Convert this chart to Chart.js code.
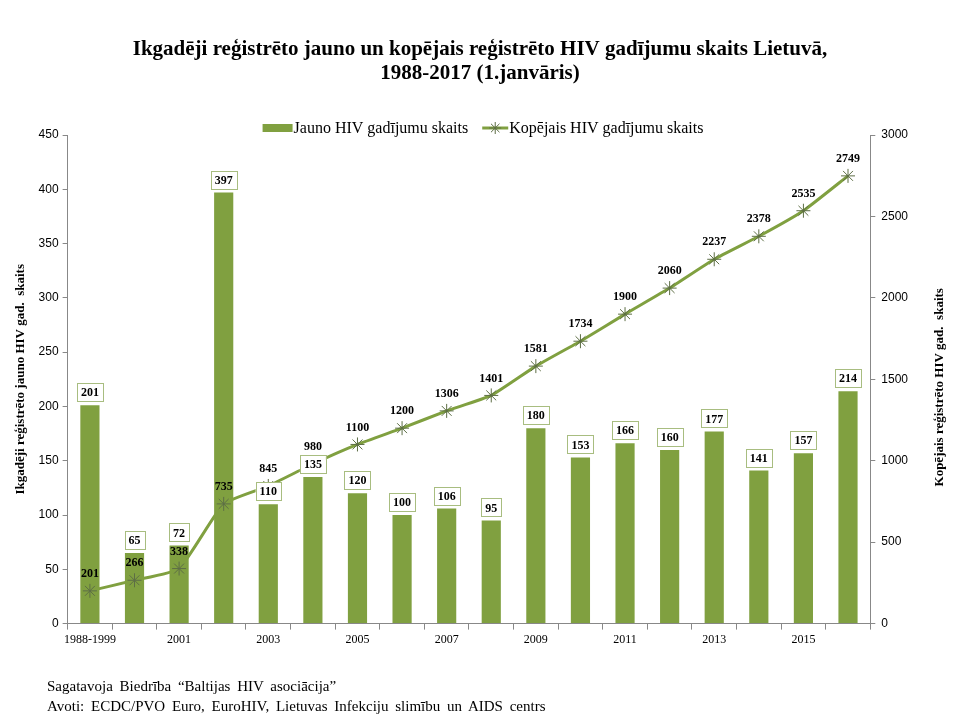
<!DOCTYPE html>
<html>
<head>
<meta charset="utf-8">
<script src="https://cdn.jsdelivr.net/npm/chart.js@4.4.0/dist/chart.umd.min.js"></script>
<style>
  html, body { margin: 0; padding: 0; background: #fff; }
  #wrap { position: relative; width: 960px; height: 720px; }
  #footer { position: absolute; left: 47px; top: 676px; font-family: "Liberation Serif", serif; font-size: 15px; line-height: 20px; color: #000; word-spacing: 3px; }
</style>
</head>
<body>
<div id="wrap">
  <canvas id="chart" width="960" height="720"></canvas>
  <div id="footer">
    Sagatavoja Biedrība “Baltijas HIV asociācija”<br>
    Avoti: ECDC/PVO Euro, EuroHIV, Lietuvas Infekciju slimību un AIDS centrs
  </div>
</div>
<script>
// dati
const gadi = ['1988-1999', '2000', '2001', '2002', '2003', '2004', '2005', '2006', '2007',
  '2008', '2009', '2010', '2011', '2012', '2013', '2014', '2015', '2016'];
const jauni = [201, 65, 72, 397, 110, 135, 120, 100, 106, 95, 180, 153, 166, 160, 177, 141, 157, 214];
const kopa = [201, 266, 338, 735, 845, 980, 1100, 1200, 1306, 1401, 1581, 1734, 1900, 2060, 2237, 2378, 2535, 2749];
const kreisaTicks = [0, 50, 100, 150, 200, 250, 300, 350, 400, 450];
const labaTicks = [0, 500, 1000, 1500, 2000, 2500, 3000];
const serijas = ['Jauno HIV gadījumu skaits', 'Kopējais HIV gadījumu skaits'];
const virsraksts = ['Ikgadēji reģistrēto jauno un kopējais reģistrēto HIV gadījumu skaits Lietuvā,', '1988-2017 (1.janvāris)'];

const zals = '#80a040';
const zvaigzne = '#5d6e45';
const serif = '"Liberation Serif", "Times New Roman", serif';
const sans = '"Liberation Sans", Arial, sans-serif';

// vertibu uzraksti, virsraksts, leģenda un labās ass nosaukums
const uzraksti = {
  id: 'uzraksti',
  afterDatasetsDraw(chart) {
    const ctx = chart.ctx;
    ctx.save();
    ctx.font = 'bold 12px ' + serif;
    ctx.textAlign = 'center';
    ctx.textBaseline = 'middle';
    chart.getDatasetMeta(1).data.forEach((bar, i) => {
      const txt = String(jauni[i]);
      const w = ctx.measureText(txt).width + 8;
      const h = 18;
      const cy = bar.y - 13;
      ctx.fillStyle = '#fff';
      ctx.strokeStyle = '#a8bd80';
      ctx.lineWidth = 1;
      ctx.fillRect(bar.x - w / 2, cy - h / 2, w, h);
      ctx.strokeRect(Math.round(bar.x - w / 2) + 0.5, Math.round(cy - h / 2) + 0.5, Math.round(w), h);
      ctx.fillStyle = '#000';
      ctx.fillText(txt, bar.x, cy + 1);
    });
    chart.getDatasetMeta(0).data.forEach((pt, i) => {
      ctx.fillStyle = '#000';
      ctx.fillText(String(kopa[i]), pt.x, pt.y - 17);
    });
    ctx.restore();
  },
  afterDraw(chart) {
    const ctx = chart.ctx;
    const a = chart.chartArea;

    // virsraksts
    ctx.save();
    ctx.font = 'bold 21px ' + serif;
    ctx.fillStyle = '#000';
    ctx.textAlign = 'center';
    ctx.textBaseline = 'middle';
    ctx.fillText(virsraksts[0], 480, 50);
    ctx.fillText(virsraksts[1], 480, 74);
    ctx.restore();

    // labās ass nosaukums
    ctx.save();
    ctx.font = 'bold 13px ' + serif;
    ctx.fillStyle = '#000';
    ctx.textAlign = 'center';
    ctx.textBaseline = 'middle';
    ctx.translate(940, (a.top + a.bottom) / 2 + 8);
    ctx.rotate(-Math.PI / 2);
    ctx.fillText('Kopējais reģistrēto HIV gad.  skaits', 0, 0);
    ctx.restore();

    // leģenda
    ctx.save();
    ctx.font = '16px ' + serif;
    ctx.textBaseline = 'middle';
    const w1 = ctx.measureText(serijas[0]).width;
    const w2 = ctx.measureText(serijas[1]).width;
    const total = 30 + 1 + w1 + 14 + 26 + 1 + w2;
    let x = 483 - total / 2;
    const cy = 128;
    ctx.fillStyle = zals;
    ctx.fillRect(x, cy - 4, 30, 8);
    x += 31;
    ctx.fillStyle = '#000';
    ctx.fillText(serijas[0], x, cy + 1);
    x += w1 + 14;
    ctx.strokeStyle = zals;
    ctx.lineWidth = 3;
    ctx.beginPath();
    ctx.moveTo(x, cy);
    ctx.lineTo(x + 26, cy);
    ctx.stroke();
    ctx.strokeStyle = zvaigzne;
    ctx.lineWidth = 1;
    Chart.helpers.drawPoint(ctx, { pointStyle: 'star', radius: 6, borderWidth: 1 }, x + 13, cy);
    x += 27;
    ctx.fillText(serijas[1], x, cy + 1);
    ctx.restore();
  }
};

const ctx = document.getElementById('chart').getContext('2d');
const myChart = new Chart(ctx, {
  type: 'bar',
  data: {
    labels: gadi,
    datasets: [{
      type: 'line',
      label: serijas[1],
      data: kopa,
      yAxisID: 'y2',
      borderColor: zals,
      borderWidth: 3,
      pointStyle: 'star',
      pointRadius: 7,
      pointBorderColor: zvaigzne,
      pointBorderWidth: 1,
      pointBackgroundColor: zvaigzne,
      tension: 0.15,
      order: 0
    }, {
      type: 'bar',
      label: serijas[0],
      data: jauni,
      yAxisID: 'y',
      backgroundColor: zals,
      categoryPercentage: 1,
      barPercentage: 0.43,
      order: 1
    }]
  },
  options: {
    responsive: false,
    animation: false,
    layout: { padding: { left: 13, right: 46, top: 135, bottom: 70 } },
    plugins: {
      title: { display: false },
      legend: { display: false },
      tooltip: { enabled: false }
    },
    scales: {
      x: {
        grid: { display: true, drawOnChartArea: false, offset: true, tickLength: 6, color: '#888' },
        border: { color: '#888' },
        ticks: {
          autoSkip: false,
          maxRotation: 0,
          font: { family: serif, size: 12 },
          color: '#000',
          callback: function (v, i) { return i % 2 === 0 ? gadi[i] : ''; }
        }
      },
      y: {
        position: 'left',
        min: 0,
        max: 450,
        afterBuildTicks(axis) { axis.ticks = kreisaTicks.map(v => ({ value: v })); },
        grid: { display: true, drawOnChartArea: false, tickLength: 5, color: '#888' },
        border: { color: '#888' },
        ticks: { font: { family: sans, size: 12 }, color: '#000', padding: 4 },
        title: {
          display: true,
          text: 'Ikgadēji reģistrēto jauno HIV gad.  skaits',
          font: { family: serif, size: 13, weight: 'bold' },
          color: '#000',
          padding: { top: 0, bottom: 6 }
        }
      },
      y2: {
        position: 'right',
        min: 0,
        max: 3000,
        afterBuildTicks(axis) { axis.ticks = labaTicks.map(v => ({ value: v })); },
        grid: { display: true, drawOnChartArea: false, tickLength: 5, color: '#888' },
        border: { color: '#888' },
        ticks: {
          font: { family: sans, size: 12 },
          color: '#000',
          padding: 6,
          callback: function (v) { return String(v); }
        }
      }
    }
  },
  plugins: [uzraksti]
});
</script>
</body>
</html>
